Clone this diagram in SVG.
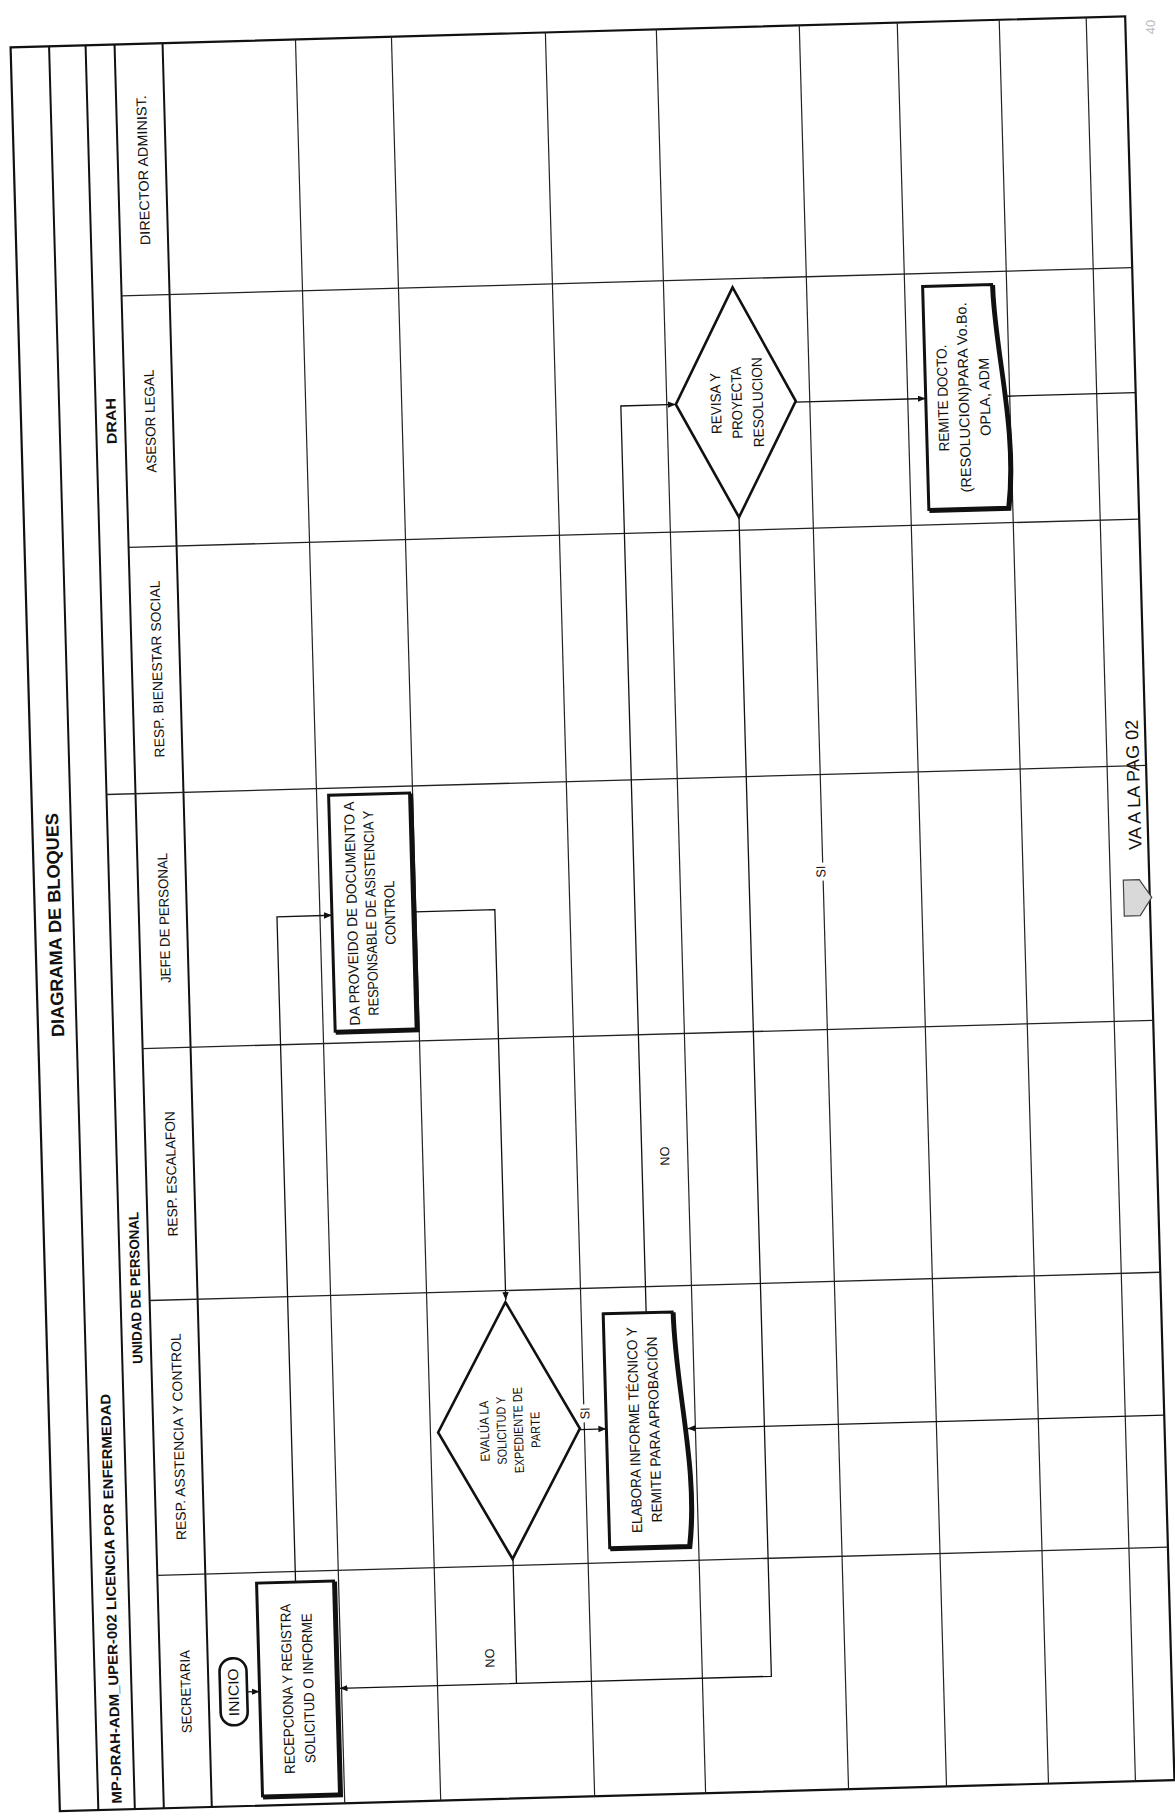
<svg xmlns="http://www.w3.org/2000/svg" width="1175" height="1820" viewBox="0 0 1175 1820">
<defs>
<style>
.frame{fill:none;stroke:#111;stroke-width:2.2}
.hdr{stroke:#111;stroke-width:2}
.grid{stroke:#222;stroke-width:1.2}
.lane{stroke:#222;stroke-width:1.3}
.box{fill:#fff;stroke:#111;stroke-width:3}
.shadow{fill:none;stroke:#111;stroke-width:3}
.dia{fill:#fff;stroke:#111;stroke-width:2.6}
.term{fill:#fff;stroke:#111;stroke-width:2.6}
.conn{fill:none;stroke:#111;stroke-width:1.3}
.lblbg{fill:#fff;stroke:none}
text{font-family:"Liberation Sans","DejaVu Sans",Arial,sans-serif;fill:#111;text-anchor:middle;dominant-baseline:central}
.tt{font-size:18px;font-weight:bold}
.tc{font-size:14px;font-weight:bold}
.tg{font-size:14px;font-weight:bold}
.tl{font-size:14px}
.tn{font-size:14.5px}
.td{font-size:13px}
.tk{font-size:13px}
</style>
<marker id="arr" viewBox="0 0 10 10" refX="10" refY="5" markerWidth="8" markerHeight="8" orient="auto" markerUnits="userSpaceOnUse">
<path d="M0,1 L10,5 L0,9 Z" fill="#111"/>
</marker>
</defs>
<rect width="1175" height="1820" fill="#fff"/>
<text transform="translate(1150 27) rotate(-90)" style="font-size:13px;fill:#bbb">40</text>
<g transform="rotate(-1.6 592 913.5)">
<g id="table">
<rect class="frame" x="35" y="31.5" width="1115" height="1764.5"/>
<line class="hdr" x1="73.5" y1="31.5" x2="73.5" y2="1796"/>
<line class="hdr" x1="110" y1="31.5" x2="110" y2="1796"/>
<line class="hdr" x1="139" y1="31.5" x2="139" y2="1796"/>
<line class="hdr" x1="187" y1="31.5" x2="187" y2="1796"/>
<line class="grid" x1="320" y1="31.5" x2="320" y2="1796"/>
<line class="grid" x1="416" y1="31.5" x2="416" y2="1796"/>
<line class="grid" x1="570" y1="31.5" x2="570" y2="1796"/>
<line class="grid" x1="681" y1="31.5" x2="681" y2="1796"/>
<line class="grid" x1="824" y1="31.5" x2="824" y2="1796"/>
<line class="grid" x1="922" y1="31.5" x2="922" y2="1796"/>
<line class="grid" x1="1024" y1="31.5" x2="1024" y2="1796"/>
<line class="grid" x1="1111" y1="31.5" x2="1111" y2="1796"/>
<line class="lane" x1="139" y1="283" x2="1150" y2="283"/>
<line class="lane" x1="139" y1="534.5" x2="1150" y2="534.5"/>
<line class="lane" x1="110" y1="781" x2="1150" y2="781"/>
<line class="lane" x1="139" y1="1036" x2="1150" y2="1036"/>
<line class="lane" x1="139" y1="1288" x2="1150" y2="1288"/>
<line class="lane" x1="139" y1="1563" x2="1150" y2="1563"/>
</g>
<g id="headers">
<text class="tt" transform="translate(55 910) rotate(-90)" textLength="224" lengthAdjust="spacingAndGlyphs">DIAGRAMA DE BLOQUES</text>
<text class="tc" transform="translate(92 1790) rotate(-90)" style="text-anchor:start" textLength="410" lengthAdjust="spacingAndGlyphs">MP-DRAH-ADM_UPER-002  LICENCIA POR ENFERMEDAD</text>
<text class="tg" transform="translate(125 408) rotate(-90)" textLength="46" lengthAdjust="spacingAndGlyphs">DRAH</text>
<text class="tg" transform="translate(125 1275) rotate(-90)" textLength="152" lengthAdjust="spacingAndGlyphs">UNIDAD DE PERSONAL</text>
<text class="tl" transform="translate(164 158) rotate(-90)" textLength="150" lengthAdjust="spacingAndGlyphs">DIRECTOR ADMINIST.</text>
<text class="tl" transform="translate(164 409) rotate(-90)" textLength="103" lengthAdjust="spacingAndGlyphs">ASESOR LEGAL</text>
<text class="tl" transform="translate(164 657) rotate(-90)" textLength="177" lengthAdjust="spacingAndGlyphs">RESP. BIENESTAR SOCIAL</text>
<text class="tl" transform="translate(164 906) rotate(-90)" textLength="130" lengthAdjust="spacingAndGlyphs">JEFE DE PERSONAL</text>
<text class="tl" transform="translate(164 1162) rotate(-90)" textLength="125" lengthAdjust="spacingAndGlyphs">RESP. ESCALAFON</text>
<text class="tl" transform="translate(164 1425) rotate(-90)" textLength="207" lengthAdjust="spacingAndGlyphs">RESP. ASSTENCIA Y CONTROL</text>
<text class="tl" transform="translate(164 1680) rotate(-90)" textLength="83" lengthAdjust="spacingAndGlyphs">SECRETARIA</text>
</g>
<g id="connectors">
<path class="conn" d="M225,1682 H238" marker-end="url(#arr)"/>
<path class="conn" d="M277,1573.5 V908 H332" marker-end="url(#arr)"/>
<path class="conn" d="M415,907 H495 V1297.5" marker-end="url(#arr)"/>
<path class="conn" d="M565.5,1429 H592" marker-end="url(#arr)"/>
<path class="conn" d="M495,1556 V1681"/>
<path class="conn" d="M750,521.5 V1681 H318" marker-end="url(#arr)"/>
<path class="conn" d="M1150,1431 H673" marker-end="url(#arr)"/>
<path class="conn" d="M635,1314 V407 H690" marker-end="url(#arr)"/>
<path class="conn" d="M810,408 H940" marker-end="url(#arr)"/>
<path class="conn" d="M1020,408 H1150"/>
<rect class="lblbg" x="565" y="1404" width="12" height="18"/>
<text class="td" transform="translate(571 1413) rotate(-90)" textLength="12" lengthAdjust="spacingAndGlyphs">SI</text>
<text class="tk" transform="translate(469 1655) rotate(-90)" textLength="19" lengthAdjust="spacingAndGlyphs">NO</text>
<text class="tk" transform="translate(658 1158) rotate(-90)" textLength="19" lengthAdjust="spacingAndGlyphs">NO</text>
<rect class="lblbg" x="816" y="869" width="12" height="18"/>
<text class="td" transform="translate(822 878) rotate(-90)" textLength="12" lengthAdjust="spacingAndGlyphs">SI</text>
</g>
<g id="inicio">
<rect class="term" x="198.5" y="1648" width="27" height="67" rx="13" ry="13"/>
<text class="tn" transform="translate(212 1682) rotate(-90)" textLength="48" lengthAdjust="spacingAndGlyphs">INICIO</text>
</g>
<g id="recepciona">
<rect class="shadow" x="240" y="1575.5" width="77" height="213"/>
<rect class="box" x="238" y="1573.5" width="77" height="213"/>
<text class="tn" transform="translate(266 1680) rotate(-90)" textLength="170" lengthAdjust="spacingAndGlyphs">RECEPCIONA Y REGISTRA</text>
<text class="tn" transform="translate(287 1680) rotate(-90)" textLength="150" lengthAdjust="spacingAndGlyphs">SOLICITUD O INFORME</text>
</g>
<g id="proveido">
<rect class="shadow" x="334" y="790" width="81" height="236"/>
<rect class="box" x="332" y="788" width="81" height="236"/>
<text class="tn" transform="translate(352 907) rotate(-90)" textLength="224" lengthAdjust="spacingAndGlyphs">DA PROVEIDO DE DOCUMENTO A</text>
<text class="tn" transform="translate(371 907) rotate(-90)" textLength="205" lengthAdjust="spacingAndGlyphs">RESPONSABLE DE ASISTENCIA Y</text>
<text class="tn" transform="translate(390 907) rotate(-90)" textLength="64" lengthAdjust="spacingAndGlyphs">CONTROL</text>
</g>
<g id="evalua">
<polygon class="dia" points="494.6,1299.5 565.5,1428 494.6,1556.5 423.7,1428"/>
<text class="td" transform="translate(470 1428) rotate(-90)" textLength="61" lengthAdjust="spacingAndGlyphs">EVALÚA LA</text>
<text class="td" transform="translate(487 1428) rotate(-90)" textLength="68" lengthAdjust="spacingAndGlyphs">SOLICITUD Y</text>
<text class="td" transform="translate(504 1428) rotate(-90)" textLength="86" lengthAdjust="spacingAndGlyphs">EXPEDIENTE DE</text>
<text class="td" transform="translate(521 1428) rotate(-90)" textLength="36" lengthAdjust="spacingAndGlyphs">PARTE</text>
</g>
<g id="elabora">
<path class="shadow" d="M594,1316 H663 C663,1392 684,1472 673,1550 H594 Z"/>
<path class="box" d="M592,1314 H661 C661,1390 682,1470 671,1548 H592 Z"/>
<text class="tn" transform="translate(620 1431) rotate(-90)" textLength="206" lengthAdjust="spacingAndGlyphs">ELABORA INFORME TÉCNICO Y</text>
<text class="tn" transform="translate(640 1431) rotate(-90)" textLength="186" lengthAdjust="spacingAndGlyphs">REMITE PARA APROBACIÓN</text>
</g>
<g id="revisa">
<polygon class="dia" points="750,291.5 810,407 750,521.5 690,407"/>
<text class="tn" transform="translate(730 407) rotate(-90)" textLength="61" lengthAdjust="spacingAndGlyphs">REVISA Y</text>
<text class="tn" transform="translate(751 407) rotate(-90)" textLength="72" lengthAdjust="spacingAndGlyphs">PROYECTA</text>
<text class="tn" transform="translate(772 407) rotate(-90)" textLength="90" lengthAdjust="spacingAndGlyphs">RESOLUCION</text>
</g>
<g id="remite">
<path class="shadow" d="M942,298 H1011 C1011,362 1032,442 1021,521 H942 Z"/>
<path class="box" d="M940,296 H1009 C1009,360 1030,440 1019,519 H940 Z"/>
<text class="tn" transform="translate(957 408) rotate(-90)" textLength="107" lengthAdjust="spacingAndGlyphs">REMITE DOCTO.</text>
<text class="tn" transform="translate(978 408) rotate(-90)" textLength="190" lengthAdjust="spacingAndGlyphs">(RESOLUCION)PARA Vo.Bo.</text>
<text class="tn" transform="translate(999 408) rotate(-90)" textLength="78" lengthAdjust="spacingAndGlyphs">OPLA, ADM</text>
</g>
<g id="offpage">
<polygon points="1124,895 1140,895 1152,913 1140,931 1124,931" fill="#d9d9d9" stroke="#444" stroke-width="1.2"/>
<text transform="translate(1137 800) rotate(-90)" style="font-size:18px" textLength="130" lengthAdjust="spacingAndGlyphs">VA A LA PAG 02</text>
</g>
</g>
</svg>
